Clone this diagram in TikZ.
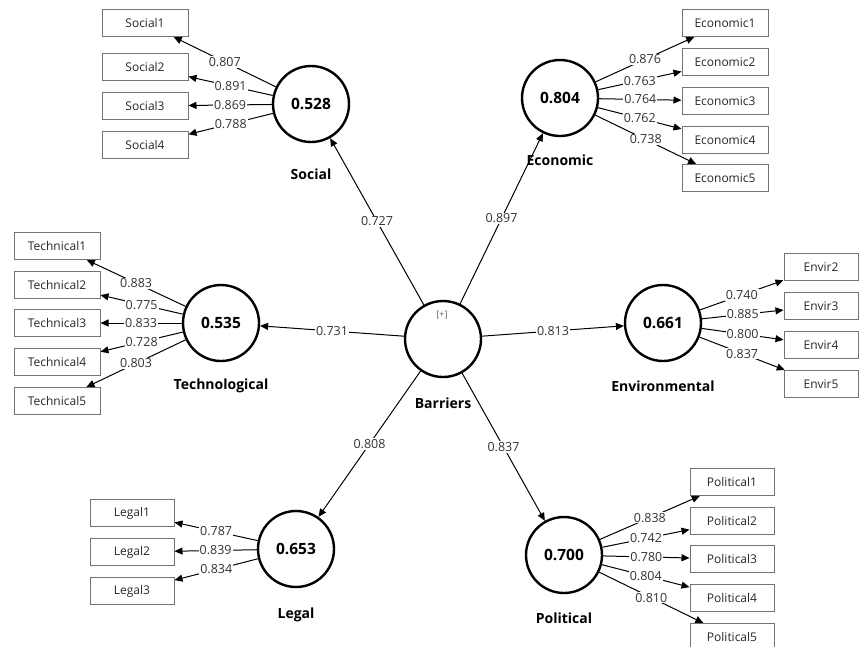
\documentclass[tikz,border=0pt]{standalone}
\usepackage{fontspec}
\setmainfont{Open Sans}
\usepackage{tikz}
\usetikzlibrary{positioning, arrows.meta}

\tikzset{
  construct/.style={circle, draw, line width=2.4pt, minimum size=76pt, inner sep=0pt,
                    font=\bfseries\fontsize{15.5}{17}\selectfont},
  cname/.style={font=\bfseries\fontsize{14}{16}\selectfont},
  item/.style={draw=black!55, line width=1pt, minimum width=86pt, minimum height=27pt,
               inner sep=0pt, font=\fontsize{12}{14}\selectfont, text=black!85},
  link/.style={line width=1pt, -{Triangle[length=8pt,width=7pt]}},
  coef/.style={fill=white, inner sep=1pt, font=\fontsize{12.5}{14}\selectfont, text=black!80}
}

\begin{document}
\begin{tikzpicture}[x=1pt, y=-1pt]
    \useasboundingbox (0,0) rectangle (859,646);

    % Latent variables
    \node[construct] (barriers)  at (443,339) {};
    \node[font=\fontsize{9}{10}\selectfont, text=black!65] (plus) at (442,315) {[+]};
    \node[construct] (social)    at (311,104) {0.528};
    \node[construct] (economic)  at (560,98)  {0.804};
    \node[construct] (techno)    at (221,323) {0.535};
    \node[construct] (environ)   at (663,323) {0.661};
    \node[construct] (legal)     at (296,549) {0.653};
    \node[construct] (political) at (564,555) {0.700};

    % Construct names
    \node[cname, below=16pt of barriers]  (barrierstxt)  {Barriers};
    \node[cname, below=22pt of social]    (socialtxt)    {Social};
    \node[cname, below=14pt of economic]  (economictxt)  {Economic};
    \node[cname, below=13pt of techno]    (technotxt)    {Technological};
    \node[cname, below=15pt of environ]   (environtxt)   {Environmental};
    \node[cname, below=16pt of legal]     (legaltxt)     {Legal};
    \node[cname, below=15pt of political] (politicaltxt) {Political};

    % Structural paths
    \foreach \tgt/\val in {social/0.727, economic/0.897, techno/0.731,
                           environ/0.813, legal/0.808, political/0.837}
        \draw[link] (barriers) -- node[coef] {\val} (\tgt);

    % Indicators
    \foreach \n/\y/\val in {1/23/0.807, 2/67/0.891, 3/106/0.869, 4/145/0.788} {
        \node[item] (soc\n) at (145,\y) {Social\n};
        \draw[link] (social) -- node[coef] {\val} (soc\n);
    }
    \foreach \n/\y/\val in {1/23/0.876, 2/62/0.763, 3/101/0.764, 4/140/0.762, 5/178/0.738} {
        \node[item] (eco\n) at (725,\y) {Economic\n};
        \draw[link] (economic) -- node[coef] {\val} (eco\n);
    }
    \foreach \n/\y/\val in {1/246/0.883, 2/285/0.775, 3/323/0.833, 4/362/0.728, 5/401/0.803} {
        \node[item] (tec\n) at (57,\y) {Technical\n};
        \draw[link] (techno) -- node[coef] {\val} (tec\n);
    }
    \foreach \n/\y/\val in {2/267/0.740, 3/306/0.885, 4/345/0.800, 5/384/0.837} {
        \node[item, minimum width=74pt] (env\n) at (821,\y) {Envir\n};
        \draw[link] (environ) -- node[coef] {\val} (env\n);
    }
    \foreach \n/\y/\val in {1/513/0.787, 2/552/0.839, 3/591/0.834} {
        \node[item, minimum width=84pt] (leg\n) at (132,\y) {Legal\n};
        \draw[link] (legal) -- node[coef] {\val} (leg\n);
    }
    \foreach \n/\y/\val in {1/482/0.838, 2/521/0.742, 3/559/0.780, 4/598/0.804, 5/637/0.810} {
        \node[item, minimum width=84pt] (pol\n) at (732,\y) {Political\n};
        \draw[link] (political) -- node[coef] {\val} (pol\n);
    }
\end{tikzpicture}
\end{document}
